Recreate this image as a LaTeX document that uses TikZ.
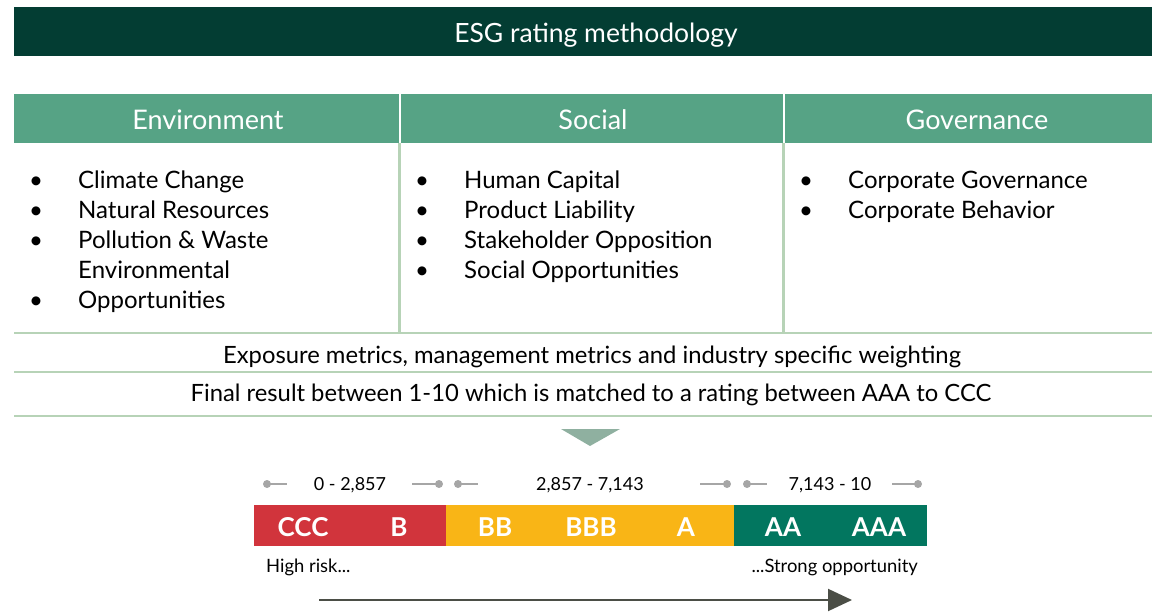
\documentclass[tikz,border=0pt]{standalone}
\usepackage{fontspec}
\setmainfont{Lato}
\usepackage{xcolor}
\usetikzlibrary{arrows.meta}

\definecolor{titlegreen}{HTML}{033D33}
\definecolor{headgreen}{HTML}{56A385}
\definecolor{rulegreen}{HTML}{B7D3B7}
\definecolor{pointgreen}{HTML}{8FB0A0}
\definecolor{esgred}{HTML}{D1343C}
\definecolor{esgyellow}{HTML}{F9B516}
\definecolor{esggreen}{HTML}{02765F}
\definecolor{markgray}{HTML}{A6A6A6}
\definecolor{arrowgray}{HTML}{4B4E46}

\tikzset{
  head/.style={text=white, font=\fontsize{27}{31}\selectfont},
  item/.style={anchor=base west, inner sep=0pt, font=\fontsize{24}{28}\selectfont},
  bul/.style={anchor=base, inner sep=0pt, font=\fontsize{24}{28}\selectfont},
  rowtext/.style={font=\fontsize{23.8}{28}\selectfont},
  seg/.style={inner sep=0pt, minimum height=41pt},
  grade/.style={text=white, font=\fontsize{26}{30}\selectfont\bfseries},
  rangetext/.style={font=\fontsize{18}{22}\selectfont},
  note/.style={inner sep=0pt, font=\fontsize{18.4}{22}\selectfont},
  rule/.style={rulegreen, line width=2.5pt},
  rangeline/.style={markgray, line width=1.5pt},
  rangedot/.style={fill=markgray},
}

\begin{document}
\begin{tikzpicture}[x=1pt, y=-1pt]
    \useasboundingbox (0,0) rectangle (1152,612);

    % title and header row
    \fill[titlegreen] (14,7) rectangle (1152,56);
    \node[head, font=\fontsize{26.5}{31}\selectfont] (title) at (596,35) {ESG rating methodology};
    \fill[headgreen] (14,94) rectangle (1152,143);
    \draw[white, line width=2pt] (399.5,94) -- (399.5,143);
    \draw[white, line width=2pt] (783.5,94) -- (783.5,143);
    \node[head] (env) at (208,120) {Environment};
    \node[head] (soc) at (593,120) {Social};
    \node[head] (gov) at (977,120) {Governance};

    % table rules
    \draw[rule] (399.5,143) -- (399.5,333);
    \draw[rule] (783.5,143) -- (783.5,333);
    \draw[rule] (14,333) -- (1152,333);
    \draw[rule] (14,372) -- (1152,372);
    \draw[rule] (14,416) -- (1152,416);

    % bullet lists (baselines)
    \node[bul] (eb1) at (36,188.5) {•};
    \node[bul] (eb2) at (36,218.5) {•};
    \node[bul] (eb3) at (36,248.5) {•};
    \node[bul] (eb5) at (36,308.5) {•};
    \node[item] (e1) at (78,188.5) {Climate Change};
    \node[item] (e2) at (78,218.5) {Natural Resources};
    \node[item] (e3) at (78,248.5) {Pollution \& Waste};
    \node[item] (e4) at (78,278.5) {Environmental};
    \node[item] (e5) at (78,308.5) {Opportunities};

    \node[bul] (sb1) at (422,188.5) {•};
    \node[bul] (sb2) at (422,218.5) {•};
    \node[bul] (sb3) at (422,248.5) {•};
    \node[bul] (sb4) at (422,278.5) {•};
    \node[item] (s1) at (464,188.5) {Human Capital};
    \node[item] (s2) at (464,218.5) {Product Liability};
    \node[item] (s3) at (464,248.5) {Stakeholder Opposition};
    \node[item] (s4) at (464,278.5) {Social Opportunities};

    \node[bul] (gb1) at (806,188.5) {•};
    \node[bul] (gb2) at (806,218.5) {•};
    \node[item] (g1) at (848,188.5) {Corporate Governance};
    \node[item] (g2) at (848,218.5) {Corporate Behavior};

    % summary rows
    \node[rowtext] (expo) at (592,357) {Exposure metrics, management metrics and industry specific weighting};
    \node[rowtext] (final) at (591,395) {Final result between 1-10 which is matched to a rating between AAA to CCC};

    \fill[pointgreen] (561,429) -- (620,429) -- (590,446) -- cycle;

    % rating scale
    \node[seg, fill=esgred, minimum width=192pt] (red) at (350,525.5) {};
    \node[seg, fill=esgyellow, minimum width=288pt] (yellow) at (590,525.5) {};
    \node[seg, fill=esggreen, minimum width=193pt] (green) at (830.5,525.5) {};
    \node[grade] (ccc) at (303,527) {CCC};
    \node[grade] (b) at (399,527) {B};
    \node[grade] (bb) at (495,527) {BB};
    \node[grade] (bbb) at (591,527) {BBB};
    \node[grade] (a) at (686,527) {A};
    \node[grade] (aa) at (783,527) {AA};
    \node[grade] (aaa) at (879,527) {AAA};

    \node[rangetext] (r1) at (350,485) {0 - 2,857};
    \node[rangetext] (r2) at (590,485) {2,857 - 7,143};
    \node[rangetext] (r3) at (830,485) {7,143 - 10};

    \draw[rangeline] (267,484) -- (287,484);
    \fill[rangedot] (267,484) circle (4);
    \draw[rangeline] (412,484) -- (439,484);
    \fill[rangedot] (439,484) circle (4);
    \draw[rangeline] (458,484) -- (478,484);
    \fill[rangedot] (458,484) circle (4);
    \draw[rangeline] (700,484) -- (727,484);
    \fill[rangedot] (727,484) circle (4);
    \draw[rangeline] (747,484) -- (767,484);
    \fill[rangedot] (747,484) circle (4);
    \draw[rangeline] (892,484) -- (918,484);
    \fill[rangedot] (918,484) circle (4);

    \node[note, anchor=west] (risk) at (266,567) {High risk...};
    \node[note, anchor=east] (opp) at (918,567) {...Strong opportunity};

    \coordinate (from) at (319,600);
    \coordinate (to) at (852,600);
    \draw[arrowgray, line width=2pt, -{Triangle[length=24pt, width=22pt]}] (from) -- (to);

\end{tikzpicture}
\end{document}
